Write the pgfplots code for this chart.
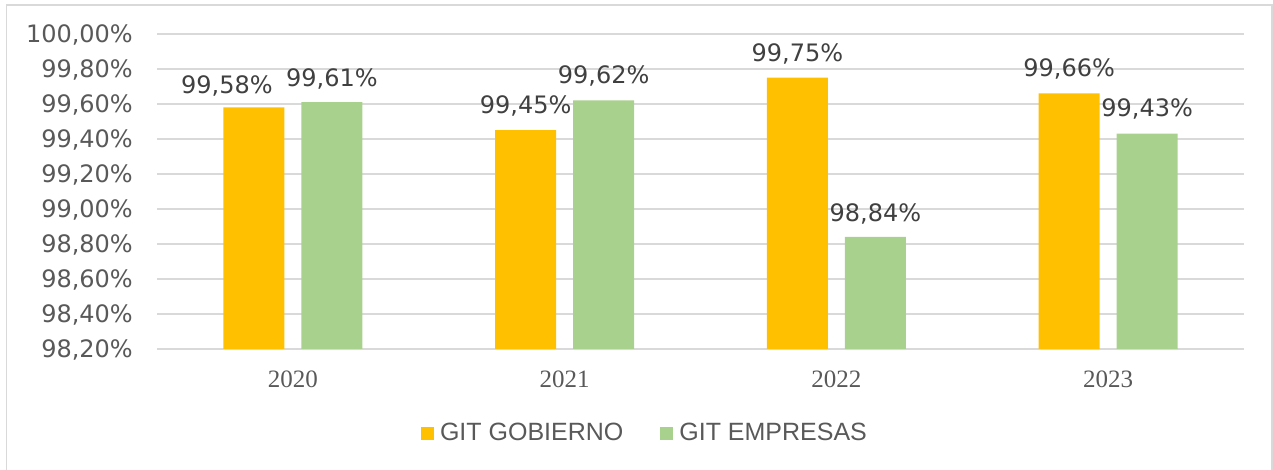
\documentclass[border=0pt]{standalone}
\usepackage{pgfplots}
\pgfplotsset{compat=1.18}
\usepackage{fontspec}
\setmainfont{DejaVu Sans}
\newfontfamily\tickfont{DejaVu Sans}
\newfontfamily\yearfont{Liberation Serif}
\newfontfamily\legfont{Liberation Sans}
\definecolor{gob}{HTML}{FFC000}
\definecolor{emp}{HTML}{A9D18E}
\definecolor{gridc}{HTML}{D9D9D9}
\definecolor{txt}{HTML}{595959}
\definecolor{lbl}{HTML}{404040}
\begin{document}
\begin{tikzpicture}[x=1pt,y=1pt]
\useasboundingbox (0,0) rectangle (1273,470);
\draw[gridc,line width=1.3pt] (6.5,-10) -- (6.5,465) -- (1272,465) -- (1272,-10);
\begin{axis}[
  at={(157pt,121pt)}, anchor=south west,
  scale only axis, width=1087pt, height=315pt,
  ybar=17pt, bar width=61pt,
  xmin=-0.5, xmax=3.5,
  ymin=98.2, ymax=100,
  xtick={0,1,2,3}, xticklabels={2020,2021,2022,2023},
  ytick={98.2,98.4,98.6,98.8,99.0,99.2,99.4,99.6,99.8,100},
  axis line style={draw=none},
  major tick length=0pt,
  ymajorgrids, grid style={gridc,line width=1.3pt},
  /pgf/number format/assume math mode=true,
  yticklabel={\pgfmathprintnumber[fixed,fixed zerofill,precision=2,use comma]{\tick}\%},
  yticklabel style={font=\tickfont\fontsize{24}{28}\selectfont, text=txt, inner sep=0pt, anchor=base east, xshift=-24pt, yshift=-8.7pt},
  xticklabel style={font=\yearfont\fontsize{25}{30}\selectfont, text=txt, inner sep=0pt, anchor=base, yshift=-39pt},
  nodes near coords={\pgfmathprintnumber[fixed,fixed zerofill,precision=2,use comma]{\pgfplotspointmeta}\%},
  visualization depends on={value \thisrow{dx} \as \dx},
  visualization depends on={value \thisrow{dy} \as \dy},
  nodes near coords style={font=\tickfont\fontsize{24}{28}\selectfont, text=lbl, inner sep=0pt, anchor=base, xshift=\dx pt, yshift=\dy pt},
  legend columns=2,
  legend style={at={(0.448,-0.2667)}, anchor=center, draw=none, fill=none,
    font=\legfont\fontsize{25}{30}\selectfont, text=txt,
    nodes={inner sep=0pt},
    /tikz/every odd column/.append style={column sep=6pt},
    /tikz/every even column/.append style={column sep=37pt}},
  legend image code/.code={\fill[#1,draw=none] (0pt,-6.5pt) rectangle (13pt,6.5pt);},
]
\addplot[fill=gob, draw=none] table[x=x,y=y] {
x y dx dy
0 99.58 -27 13.5
1 99.45 0 16.5
2 99.75 0 16
3 99.66 0 17
};
\addplot[fill=emp, draw=none] table[x=x,y=y] {
x y dx dy
0 99.61 0 16
1 99.62 0 16.5
2 98.84 0 15
3 99.43 0 17
};
\legend{GIT GOBIERNO, GIT EMPRESAS}
\end{axis}
\end{tikzpicture}
\end{document}
